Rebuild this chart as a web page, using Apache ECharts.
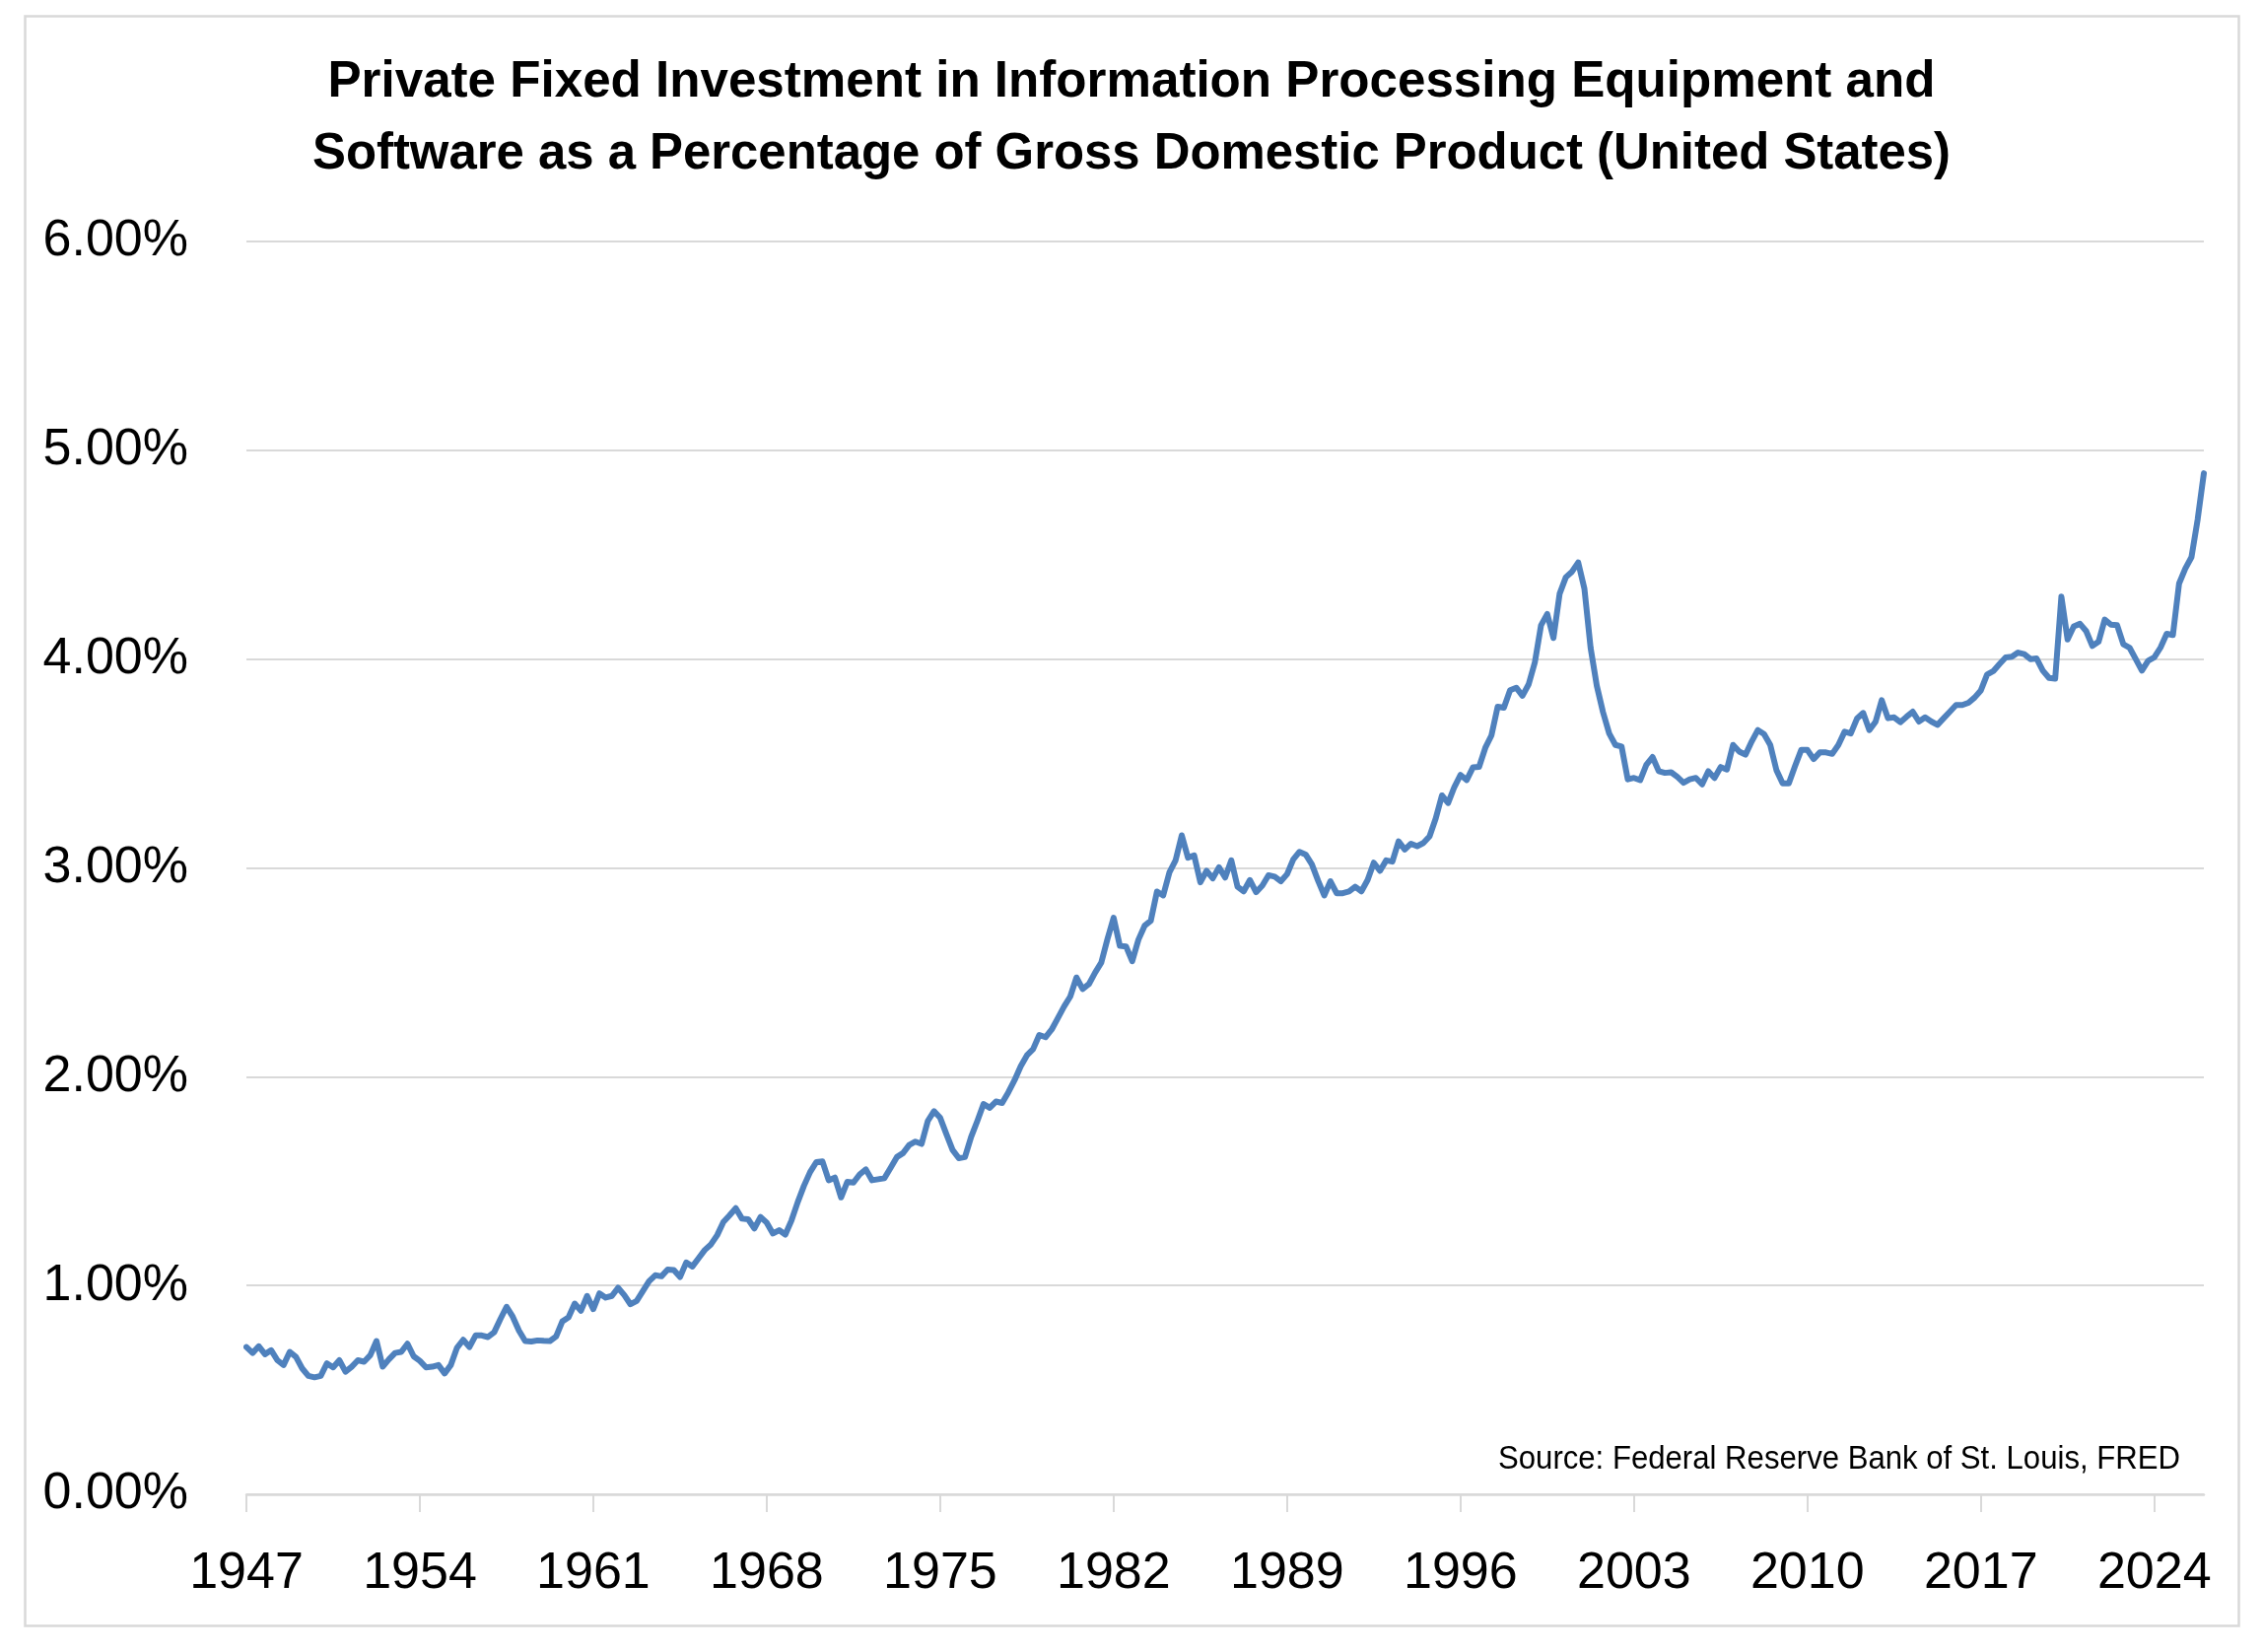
<!DOCTYPE html>
<html>
<head>
<meta charset="utf-8">
<script src="https://cdn.jsdelivr.net/npm/echarts@6/dist/echarts.min.js"></script>
<style>
html,body{margin:0;padding:0;background:#fff;}
#c{width:2296px;height:1676px;}
</style>
</head>
<body>
<div id="c"></div>
<script>
// Quarterly data, % of GDP, starting 1947Q1
const startYear = 1947;
const q1947to1960 = [0.705,0.677,0.709,0.671,0.690,0.642,0.619,0.682,0.658,0.603,0.567,0.560,0.567,0.627,0.608,0.642,0.587,0.611,0.642,0.635,0.666,0.734,0.611,0.646,0.677,0.682,0.721,0.661,0.639,0.608,0.611,0.619,0.579,0.619,0.702,0.740,0.705,0.761,0.761,0.753,0.776,0.839,0.898,0.850,0.784,0.734,0.732,0.737,0.735,0.734,0.756,0.828,0.847];
const q1960to1973 = [0.913,0.879,0.950,0.887,0.962,0.942,0.950,0.989,0.954,0.910,0.926,0.973,1.020,1.049,1.044,1.076,1.074,1.041,1.110,1.091,1.131,1.170,1.197,1.241,1.304,1.336,1.370,1.320,1.317,1.273,1.328,1.301,1.249,1.265,1.244,1.312,1.399,1.477,1.543,1.591,1.594,1.504,1.517,1.422,1.496,1.493,1.532,1.556,1.504,1.509,1.514,1.564];
const q1973to1986 = [1.615,1.634,1.673,1.689,1.678,1.788,1.835,1.803,1.725,1.649,1.610,1.615,1.712,1.788,1.869,1.851,1.881,1.874,1.925,1.983,2.050,2.102,2.132,2.200,2.189,2.226,2.281,2.336,2.384,2.475,2.420,2.443,2.498,2.546,2.659,2.761,2.627,2.624,2.553,2.656,2.723,2.747,2.887,2.868,2.978,3.036,3.156,3.049,3.060,2.931,2.986,2.950,3.003];
const q1986to1999 = [2.954,3.036,2.910,2.888,2.942,2.884,2.915,2.965,2.958,2.936,2.970,3.041,3.077,3.064,3.017,2.939,2.868,2.936,2.879,2.879,2.887,2.910,2.888,2.942,3.025,2.986,3.036,3.030,3.127,3.088,3.116,3.104,3.119,3.151,3.237,3.347,3.311,3.387,3.445,3.421,3.481,3.484,3.575,3.635,3.772,3.767,3.851,3.863,3.824,3.879,3.984,4.162,4.216];
const q1999to2012 = [4.101,4.313,4.392,4.419,4.463,4.337,4.054,3.872,3.746,3.644,3.589,3.581,3.424,3.431,3.420,3.494,3.531,3.463,3.455,3.458,3.436,3.408,3.424,3.431,3.400,3.463,3.431,3.483,3.471,3.589,3.557,3.542,3.605,3.660,3.641,3.589,3.468,3.405,3.405,3.487,3.565,3.565,3.521,3.553,3.553,3.546,3.589,3.652,3.644,3.715,3.742,3.660];
const q2012to2026 = [3.700,3.803,3.717,3.721,3.698,3.724,3.748,3.701,3.721,3.701,3.685,3.717,3.748,3.780,3.780,3.791,3.816,3.850,3.926,3.942,3.976,4.008,4.011,4.031,4.024,4.000,4.003,3.945,3.910,3.906,4.299,4.094,4.157,4.169,4.134,4.063,4.083,4.189,4.165,4.162,4.071,4.055,4.000,3.945,3.992,4.008,4.055,4.121,4.115,4.362,4.433,4.488,4.669,4.890];

const values = [].concat(q1947to1960, q1960to1973, q1973to1986, q1986to1999, q1999to2012, q2012to2026);
const categories = values.map((_, i) => (startYear + Math.floor(i / 4)) + 'Q' + (i % 4 + 1));

const titleLines = [
  'Private Fixed Investment in Information Processing Equipment and',
  'Software as a Percentage of Gross Domestic Product (United States)'
];
const sourceText = 'Source: Federal Reserve Bank of St. Louis, FRED';

const FONT = "'Liberation Sans', Arial, sans-serif";
function measure(text, font) {
  const ctx = document.createElement('canvas').getContext('2d');
  ctx.font = font;
  return ctx.measureText(text).width;
}
const titleSize = 52;
const titleFont = 'bold ' + titleSize + "px 'Liberation Sans', Arial, sans-serif";
const t1Scale = 1631 / measure(titleLines[0], titleFont);
const t2Scale = 1662 / measure(titleLines[1], titleFont);
const srcSize = 33;
const srcScale = 692 / measure(sourceText, srcSize + "px 'Liberation Sans', Arial, sans-serif");

const chart = echarts.init(document.getElementById('c'), null, {renderer: 'canvas'});
chart.setOption({
  animation: false,
  backgroundColor: '#ffffff',
  grid: {left: 250, right: 60, top: 245, bottom: 160, containLabel: false},
  xAxis: {
    type: 'category',
    data: categories,
    boundaryGap: false,
    axisLine: {show: true, lineStyle: {color: '#D9D9D9', width: 2.5}},
    axisTick: {show: true, interval: 27, length: 18, lineStyle: {color: '#D9D9D9', width: 2}},
    axisLabel: {
      interval: 27,
      formatter: v => v.slice(0, 4),
      fontSize: 52, fontFamily: FONT, color: '#000', margin: 55
    },
    splitLine: {show: false}
  },
  yAxis: {
    type: 'value',
    min: 0, max: 6, interval: 1,
    axisLine: {show: false},
    axisTick: {show: false},
    axisLabel: {
      formatter: v => v.toFixed(2) + '%',
      fontSize: 52, fontFamily: FONT, color: '#000', margin: 59
    },
    splitLine: {show: true, lineStyle: {color: '#D9D9D9', width: 2}}
  },
  series: [{
    type: 'line',
    data: values,
    symbol: 'none',
    showSymbol: false,
    smooth: false,
    z: 5,
    lineStyle: {color: '#4F81BD', width: 6, join: 'round', cap: 'round'}
  }],
  graphic: [
    {type: 'rect', z: -1, silent: true,
     shape: {x: 25.5, y: 16.5, width: 2246, height: 1633},
     style: {fill: 'none', stroke: '#D9D9D9', lineWidth: 2.5}},
    {type: 'text', x: 1148, y: 84, scaleX: t1Scale, silent: true,
     style: {text: titleLines[0], fontSize: titleSize, fontWeight: 'bold', fontFamily: FONT,
             fill: '#000', align: 'center', verticalAlign: 'middle'}},
    {type: 'text', x: 1148, y: 157, scaleX: t2Scale, silent: true,
     style: {text: titleLines[1], fontSize: titleSize, fontWeight: 'bold', fontFamily: FONT,
             fill: '#000', align: 'center', verticalAlign: 'middle'}},
    {type: 'text', x: 2212, y: 1481, scaleX: srcScale, silent: true,
     style: {text: sourceText, fontSize: srcSize, fontFamily: FONT,
             fill: '#000', align: 'right', verticalAlign: 'middle'}}
  ]
});
</script>
</body>
</html>
